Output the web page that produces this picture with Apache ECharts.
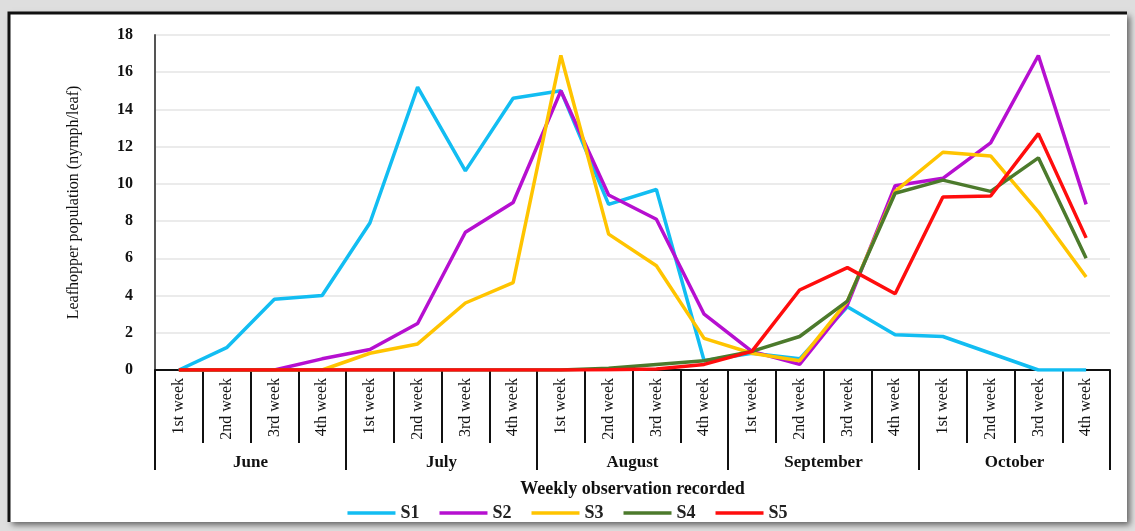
<!DOCTYPE html>
<html>
<head>
<meta charset="utf-8">
<title>Leafhopper population</title>
<script src="https://cdn.jsdelivr.net/npm/echarts@6/dist/echarts.min.js"></script>
<style>
  html, body { margin: 0; padding: 0; background: #dedede; }
  #main { width: 1135px; height: 531px; }
</style>
</head>
<body>
<div id="main"></div>
<script>
  // months and weeks of observation
  var months = ['June', 'July', 'August', 'September', 'October'];
  var weeks = ['1st week', '2nd week', '3rd week', '4th week'];

  // leafhopper nymphs per leaf, one value per week (June 1st week .. October 4th week)
  var s1 = [0, 1.2, 3.8, 4.0, 7.9, 15.2, 10.7, 14.6, 15.0, 8.9, 9.7, 0.5, 0.9, 0.6, 3.4, 1.9, 1.8, 0.9, 0, 0];
  var s2 = [0, 0, 0, 0.6, 1.1, 2.5, 7.4, 9.0, 15.0, 9.4, 8.1, 3.0, 1.0, 0.3, 3.5, 9.9, 10.3, 12.2, 16.9, 8.9];
  var s3 = [0, 0, 0, 0, 0.9, 1.4, 3.6, 4.7, 16.9, 7.3, 5.6, 1.7, 0.9, 0.5, 3.7, 9.6, 11.7, 11.5, 8.5, 5.0];
  var s4 = [0, 0, 0, 0, 0, 0, 0, 0, 0, 0.1, 0.3, 0.5, 1.0, 1.8, 3.7, 9.5, 10.2, 9.6, 11.4, 6.0];
  var s5 = [0, 0, 0, 0, 0, 0, 0, 0, 0, 0.02, 0.05, 0.3, 1.0, 4.3, 5.5, 4.1, 9.3, 9.35, 12.7, 7.1];

  var seriesNames = ['S1', 'S2', 'S3', 'S4', 'S5'];
  var seriesColors = ['#12bdf2', '#b60fd0', '#ffc400', '#4c7a2c', '#ff0d0d'];
  var seriesData = [s1, s2, s3, s4, s5];

  var categories = [];
  months.forEach(function (m) {
    weeks.forEach(function (w) { categories.push(m + '|' + w); });
  });

  var serif = '"Liberation Serif", "DejaVu Serif", serif';

  var option = {
    animation: false,
    backgroundColor: '#dedede',
    graphic: [
      {
        type: 'rect', z: -10,
        shape: { x: 9, y: 13, width: 1118, height: 509 },
        style: { fill: '#ffffff', shadowColor: 'rgba(0,0,0,0.55)', shadowBlur: 6, shadowOffsetX: 3, shadowOffsetY: 3 }
      },
      {
        type: 'polyline', z: -9,
        shape: { points: [[9, 522], [9, 13], [1127, 13]] },
        style: { stroke: '#111', lineWidth: 3, fill: null }
      }
    ],
    grid: { left: 155, right: 25, top: 35, bottom: 161 },
    legend: {
      bottom: 4,
      left: 'center',
      icon: 'rect',
      itemWidth: 48,
      itemHeight: 3.5,
      itemGap: 20,
      textStyle: { fontFamily: serif, fontWeight: 'bold', fontSize: 18, color: '#222' },
      data: seriesNames
    },
    xAxis: [
      {
        type: 'category',
        data: categories,
        boundaryGap: true,
        position: 'bottom',
        axisLine: { lineStyle: { color: '#111', width: 2 } },
        axisTick: { show: true, interval: 0, length: 73, lineStyle: { color: '#111', width: 2 } },
        axisLabel: {
          interval: 0, rotate: 90, margin: 8,
          fontFamily: serif, fontSize: 16, color: '#111',
          formatter: function (v) { return v.split('|')[1]; }
        },
        splitLine: { show: false }
      },
      {
        type: 'category',
        data: months,
        boundaryGap: true,
        position: 'bottom',
        offset: 0,
        axisLine: { show: false },
        axisTick: { show: true, interval: 0, length: 100, lineStyle: { color: '#111', width: 2 } },
        axisLabel: {
          interval: 0, margin: 84,
          fontFamily: serif, fontWeight: 'bold', fontSize: 17, color: '#111'
        },
        name: 'Weekly observation recorded',
        nameLocation: 'middle',
        nameGap: 110,
        nameTextStyle: { fontFamily: serif, fontWeight: 'bold', fontSize: 18, color: '#111' }
      }
    ],
    yAxis: {
      type: 'value',
      min: 0, max: 18, interval: 2,
      axisLine: { show: true, lineStyle: { color: '#555', width: 2 } },
      axisTick: { show: false },
      axisLabel: { margin: 22, fontFamily: serif, fontWeight: 'bold', fontSize: 16, color: '#111' },
      splitLine: { lineStyle: { color: '#e4e4e4', width: 1.5 } },
      name: 'Leafhopper population (nymph/leaf)',
      nameLocation: 'middle',
      nameGap: 73,
      nameTextStyle: { fontFamily: serif, fontSize: 16, color: '#111' }
    },
    series: seriesNames.map(function (name, i) {
      return {
        name: name,
        type: 'line',
        xAxisIndex: 0,
        data: seriesData[i],
        symbol: 'none',
        color: seriesColors[i],
        lineStyle: { width: 3.5, color: seriesColors[i] }
      };
    })
  };

  var myChart = echarts.init(document.getElementById('main'));
  myChart.setOption(option);
</script>
</body>
</html>
